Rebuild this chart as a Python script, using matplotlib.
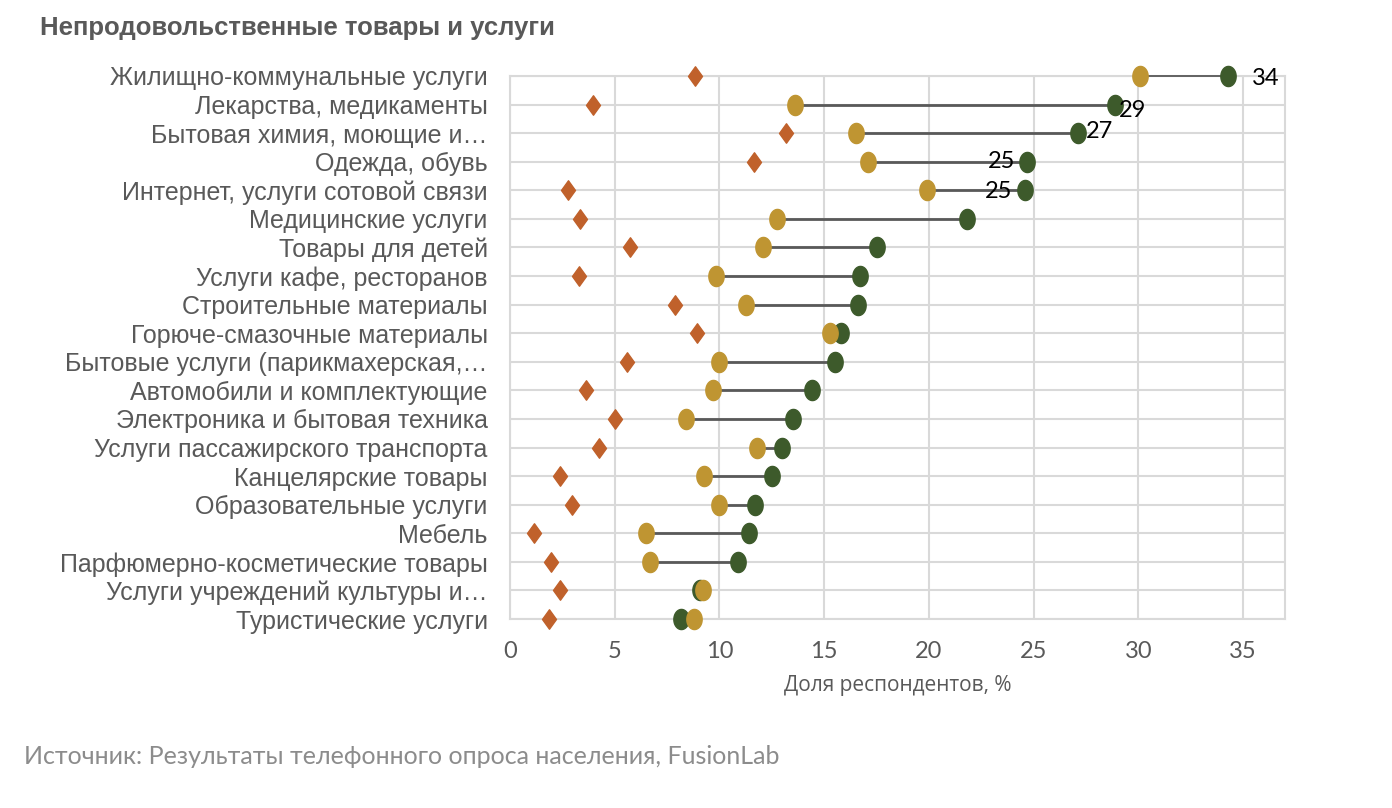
import numpy as np
import matplotlib.pyplot as plt
from matplotlib.path import Path

# Data, top to bottom
categories = [
    'Жилищно-коммунальные услуги',
    'Лекарства, медикаменты',
    'Бытовая химия, моющие и…',
    'Одежда, обувь',
    'Интернет, услуги сотовой связи',
    'Медицинские услуги',
    'Товары для детей',
    'Услуги кафе, ресторанов',
    'Строительные материалы',
    'Горюче-смазочные материалы',
    'Бытовые услуги (парикмахерская,…',
    'Автомобили и комплектующие',
    'Электроника и бытовая техника',
    'Услуги пассажирского транспорта',
    'Канцелярские товары',
    'Образовательные услуги',
    'Мебель',
    'Парфюмерно-косметические товары',
    'Услуги учреждений культуры и…',
    'Туристические услуги',
]
green_vals = [34.3, 28.9, 27.1, 24.7, 24.6, 21.8, 17.5, 16.7, 16.6, 15.8,
              15.5, 14.4, 13.5, 13.0, 12.5, 11.7, 11.4, 10.9, 9.07, 8.17]
gold_vals = [30.1, 13.6, 16.5, 17.1, 19.9, 12.75, 12.1, 9.84, 11.27, 15.3,
             9.98, 9.7, 8.4, 11.8, 9.26, 9.98, 6.5, 6.69, 9.2, 8.8]
diamond_vals = [8.83, 3.96, 13.18, 11.65, 2.77, 3.34, 5.73, 3.3, 7.88, 8.93,
                5.59, 3.63, 5.01, 4.25, 2.39, 2.96, 1.15, 1.96, 2.39, 1.86]
value_labels = ['34', '29', '27', '25', '25']

GREEN = '#3d5a2b'
GOLD = '#bf9532'
RUST = '#c0612b'
GRID = '#d9d9d9'
LABEL = '#595959'

# the markers in the original are a bit taller than wide
t = np.linspace(0, 2 * np.pi, 60)
ellipse = Path(np.column_stack([0.76 * np.cos(t), np.sin(t)]), closed=True)
diamond = Path([(0, 1), (0.72, 0), (0, -1), (-0.72, 0), (0, 1)], closed=True)

fig = plt.figure(figsize=(13.92, 8.08), dpi=100)
ax = fig.add_axes([0.3664, 0.2339, 0.9231 - 0.3664, 0.906 - 0.2339])

n = len(categories)
y = np.arange(n)[::-1]

# connectors sit above the spines (zorder 2.5) so the top row stays visible
for i, (yi, g, go) in enumerate(zip(y, green_vals, gold_vals)):
    ax.plot([go, g], [yi, yi], color='#595959',
            lw=1.3 if i == 0 else 2, zorder=2.7, clip_on=False)

ax.plot(diamond_vals, y, linestyle='none', marker=diamond, markersize=14,
        color=RUST, zorder=3, clip_on=False)
ax.plot(green_vals, y, linestyle='none', marker=ellipse, markersize=14.5,
        color=GREEN, zorder=4, clip_on=False)
ax.plot(gold_vals, y, linestyle='none', marker=ellipse, markersize=14.5,
        color=GOLD, zorder=5, clip_on=False)

# value labels for the top five
offsets = [(1.1, -0.1, 'left'),
           (0.15, -0.22, 'left'),
           (0.4, 0.05, 'left'),
           (-0.6, 0.02, 'right'),
           (-0.6, -0.05, 'right')]
for i, lab in enumerate(value_labels):
    dx, dy, ha = offsets[i]
    ax.text(green_vals[i] + dx, y[i] + dy, lab, ha=ha, va='center',
            fontsize=17, color='black', family='Lato', zorder=6)

ax.set_xlim(0, 37)
ax.set_ylim(0, n - 1)
ax.set_xticks(np.arange(0, 36, 5))
ax.set_yticks(y)
ax.set_yticklabels(categories, fontsize=18, color=LABEL, family='Liberation Sans')
ax.tick_params(axis='y', length=0, pad=16)
ax.tick_params(axis='x', length=0, pad=16, labelsize=17, labelcolor=LABEL)
for lab in ax.get_xticklabels():
    lab.set_family('Lato')

ax.grid(True, color=GRID, lw=1.5, zorder=0)
ax.set_axisbelow(True)
for s in ax.spines.values():
    s.set_color(GRID)
    s.set_linewidth(1.5)

ax.set_xlabel('Доля респондентов, %', fontsize=15, color=LABEL, labelpad=9,
              family='Open Sans')

fig.text(40 / 1392, 1 - 28 / 808, 'Непродовольственные товары и услуги',
         fontsize=18.5, fontweight='bold', color=LABEL, family='Liberation Sans',
         va='center', ha='left')
fig.text(24 / 1392, 1 - 757 / 808,
         'Источник: Результаты телефонного опроса населения, FusionLab',
         fontsize=18, color='#8c8c8c', va='center', ha='left', family='Lato')

fig.savefig('out.png', dpi=100)
